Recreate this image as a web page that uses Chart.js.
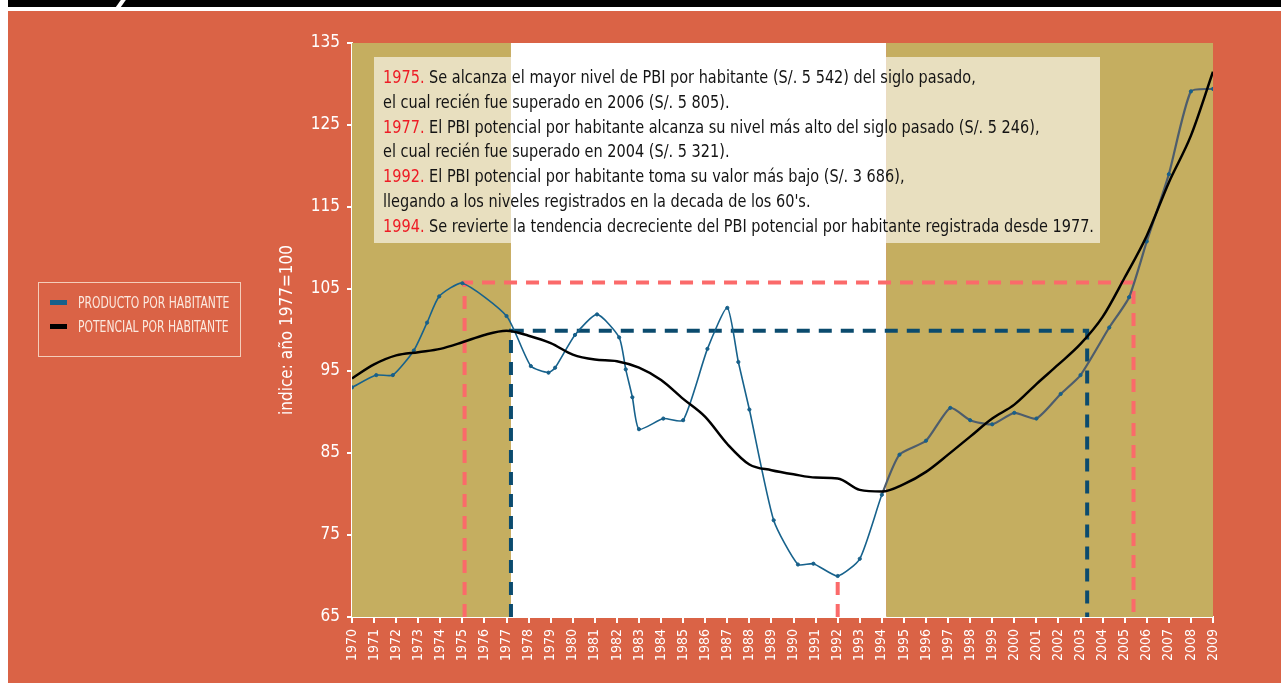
<!DOCTYPE html>
<html>
<head>
<meta charset="utf-8">
<script src="https://cdn.jsdelivr.net/npm/chart.js@4"></script>
<style>
  html, body { margin: 0; padding: 0; background: #fff; }
  body { width: 1281px; height: 683px; position: relative; overflow: hidden; font-family: 'Liberation Sans Narrow', 'DejaVu Sans Condensed', sans-serif; }
  .barra { position: absolute; left: 8px; top: 0; width: 1273px; height: 7px; background: #000; }
  .corte { position: absolute; left: 110px; top: -2px; width: 5px; height: 12px; background: #fff; transform: skewX(-35deg); }
  .fondo { position: absolute; left: 8px; top: 11px; width: 1273px; height: 672px; background: #DA6346; }
  #grafico { position: absolute; left: 0; top: 0; }
  .leyenda { position: absolute; left: 38px; top: 282px; width: 201px; height: 73px; border: 1px solid #F4CDBA; color: #FBE9DF; font-size: 15px; }
  .leyenda div { position: absolute; left: 11px; white-space: nowrap; }
  .leyenda span.m { display: inline-block; width: 17px; height: 5px; vertical-align: middle; margin-right: 11px; }
  .leyenda span.t { display: inline-block; transform: scaleX(0.8); transform-origin: left center; vertical-align: middle; }
  .nota { position: absolute; left: 374px; top: 57px; width: 717px; height: 178px; padding: 8px 0 0 9px; background: rgba(255,255,255,0.6); color: #141414; font-size: 18px; line-height: 24.8px; white-space: nowrap; }
  .nota .t { transform: scaleX(0.895); transform-origin: left top; }
  .nota b { color: #EE1C25; font-weight: normal; }
</style>
</head>
<body>
<div class="barra"><div class="corte"></div></div>
<div class="fondo"></div>
<canvas id="grafico" width="1281" height="683"></canvas>
<div class="leyenda">
  <div style="top:10px"><span class="m" style="background:#17608A"></span><span class="t">PRODUCTO POR HABITANTE</span></div>
  <div style="top:34px"><span class="m" style="background:#000"></span><span class="t">POTENCIAL POR HABITANTE</span></div>
</div>
<div class="nota"><div class="t">
  <b>1975.</b> Se alcanza el mayor nivel de PBI por habitante (S/. 5 542) del siglo pasado,<br>
  el cual recién fue superado en 2006 (S/. 5 805).<br>
  <b>1977.</b> El PBI potencial por habitante alcanza su nivel más alto del siglo pasado (S/. 5 246),<br>
  el cual recién fue superado en 2004 (S/. 5 321).<br>
  <b>1992.</b> El PBI potencial por habitante toma su valor más bajo (S/. 3 686),<br>
  llegando a los niveles registrados en la decada de los 60's.<br>
  <b>1994.</b> Se revierte la tendencia decreciente del PBI potencial por habitante registrada desde 1977.
</div></div>
<script>
// datos
const years = [1970, 1971, 1972, 1973, 1974, 1975, 1976, 1977, 1978, 1979,
  1980, 1981, 1982, 1983, 1984, 1985, 1986, 1987, 1988, 1989,
  1990, 1991, 1992, 1993, 1994, 1995, 1996, 1997, 1998, 1999,
  2000, 2001, 2002, 2003, 2004, 2005, 2006, 2007, 2008, 2009];
const yTicks = [65, 75, 85, 95, 105, 115, 125, 135];

const potencialValues = [94.1, 95.8, 96.9, 97.3, 97.7, 98.5, 99.4, 99.9, 99.3, 98.4,
  97.0, 96.4, 96.2, 95.4, 93.9, 91.6, 89.4, 86.1, 83.6, 82.9,
  82.4, 82.0, 81.9, 80.5, 80.3, 81.2, 82.7, 84.8, 87.0, 89.2,
  90.9, 93.4, 95.8, 98.3, 101.6, 106.4, 111.5, 118.0, 123.7, 131.5];

const productoYears = [1970, 1971.1, 1971.85, 1972.8, 1973.4, 1973.95, 1975.0, 1977.0, 1978.1, 1978.9,
  1979.2, 1980.1, 1981.1, 1982.1, 1982.4, 1982.7, 1983.0, 1984.1, 1985.0, 1986.1,
  1987.0, 1987.5, 1988.0, 1989.1, 1990.2, 1990.9, 1992.0, 1993.0, 1994.0, 1994.8,
  1996.0, 1997.1, 1998.0, 1999.0, 2000.0, 2001.0, 2002.1, 2003.0, 2004.3, 2005.2,
  2006.0, 2007.0, 2008.0, 2009.0];
const productoValues = [93.0, 94.5, 94.5, 97.5, 100.9, 104.1, 105.7, 101.7, 95.6, 94.8,
  95.4, 99.4, 101.9, 99.1, 95.2, 91.8, 87.9, 89.2, 89.0, 97.7,
  102.7, 96.1, 90.3, 76.8, 71.4, 71.5, 70.0, 72.1, 79.9, 84.8,
  86.5, 90.5, 89.0, 88.5, 89.9, 89.2, 92.2, 94.5, 100.3, 104.0,
  110.8, 119.0, 129.1, 129.4];

// lineas de referencia punteadas
const refRojoX = [1975.1, 1975.1, 2005.4, 2005.4];
const refRojoY = [65, 105.8, 105.8, 65];
const refAzulX = [1977.2, 1977.2, 2003.3, 2003.3];
const refAzulY = [65, 99.9, 99.9, 65];
const ref1992X = [1992, 1992];
const ref1992Y = [65, 70];

// limites de las franjas de fondo
const bandLimits = [1970, 1977.2, 1994.2, 2009];
const bandColors = ['#C5AE60', '#FFFFFF', '#C5AE60'];

function toPoints(xs, ys) {
  return xs.map((x, i) => ({ x: x, y: ys[i] }));
}

const franjas = {
  id: 'franjas',
  beforeDatasetsDraw(chart) {
    const { ctx, chartArea, scales } = chart;
    ctx.save();
    for (let i = 0; i < bandColors.length; i++) {
      const x0 = scales.x.getPixelForValue(bandLimits[i]);
      const x1 = scales.x.getPixelForValue(bandLimits[i + 1]);
      ctx.fillStyle = bandColors[i];
      ctx.fillRect(x0, chartArea.top, x1 - x0, chartArea.bottom - chartArea.top);
    }
    ctx.restore();
  }
};

const ctx = document.getElementById('grafico').getContext('2d');
const fuente = "'Liberation Sans Narrow', 'DejaVu Sans Condensed', sans-serif";

new Chart(ctx, {
  type: 'line',
  data: {
    datasets: [
      {
        label: 'POTENCIAL POR HABITANTE',
        data: toPoints(years, potencialValues),
        borderColor: '#000000',
        borderWidth: 2.5,
        pointRadius: 0,
        cubicInterpolationMode: 'monotone'
      },
      {
        label: 'PRODUCTO POR HABITANTE',
        data: toPoints(productoYears, productoValues),
        borderColor: '#17628C',
        borderWidth: 1.6,
        pointRadius: 1.6,
        pointBorderWidth: 1,
        pointBackgroundColor: '#17608A',
        pointBorderColor: '#17608A',
        tension: 0.2,
        segment: {
          borderColor: c => c.p0.parsed.x >= 1994 ? '#4E5D6C' : '#17628C',
          borderWidth: c => c.p0.parsed.x >= 1994 ? 2.2 : 1.6
        }
      },
      {
        data: toPoints(refAzulX, refAzulY),
        borderColor: '#0B4B6E',
        borderWidth: 4,
        borderDash: [13, 9],
        pointRadius: 0,
        tension: 0
      },
      {
        data: toPoints(refRojoX, refRojoY),
        borderColor: '#FB6A6A',
        borderWidth: 4,
        borderDash: [13, 9],
        pointRadius: 0,
        tension: 0
      },
      {
        data: toPoints(ref1992X, ref1992Y),
        borderColor: '#FB6A6A',
        borderWidth: 4,
        borderDash: [13, 9],
        pointRadius: 0,
        tension: 0
      }
    ]
  },
  options: {
    responsive: false,
    animation: false,
    layout: { padding: { left: 275, top: 43, right: 68, bottom: 0 } },
    plugins: {
      legend: { display: false },
      tooltip: { enabled: false }
    },
    scales: {
      x: {
        type: 'linear',
        min: 1970,
        max: 2009,
        afterFit: s => { s.height = 66; },
        afterBuildTicks: s => { s.ticks = years.map(v => ({ value: v })); },
        grid: { drawOnChartArea: false, drawTicks: true, tickLength: 6, color: '#FFFFFF', lineWidth: 2 },
        border: { display: true, color: '#FFFFFF', width: 2 },
        ticks: {
          autoSkip: false,
          minRotation: 90,
          maxRotation: 90,
          padding: 6,
          color: '#FFFFFF',
          font: { family: fuente, size: 14 },
          callback: v => String(v)
        }
      },
      y: {
        min: 65,
        max: 135,
        afterFit: s => { s.width = 77; },
        afterBuildTicks: s => { s.ticks = yTicks.map(v => ({ value: v })); },
        grid: { drawOnChartArea: false, drawTicks: true, tickLength: 5, color: '#FFFFFF', lineWidth: 2 },
        border: { display: true, color: '#FFFFFF', width: 2 },
        ticks: {
          padding: 7,
          color: '#FFFFFF',
          font: { family: fuente, size: 17 }
        },
        title: {
          display: true,
          text: 'indice: año 1977=100',
          color: '#FFFFFF',
          font: { family: fuente, size: 17 },
          padding: { top: 2, bottom: 0 }
        }
      }
    }
  },
  plugins: [franjas]
});
</script>
</body>
</html>
